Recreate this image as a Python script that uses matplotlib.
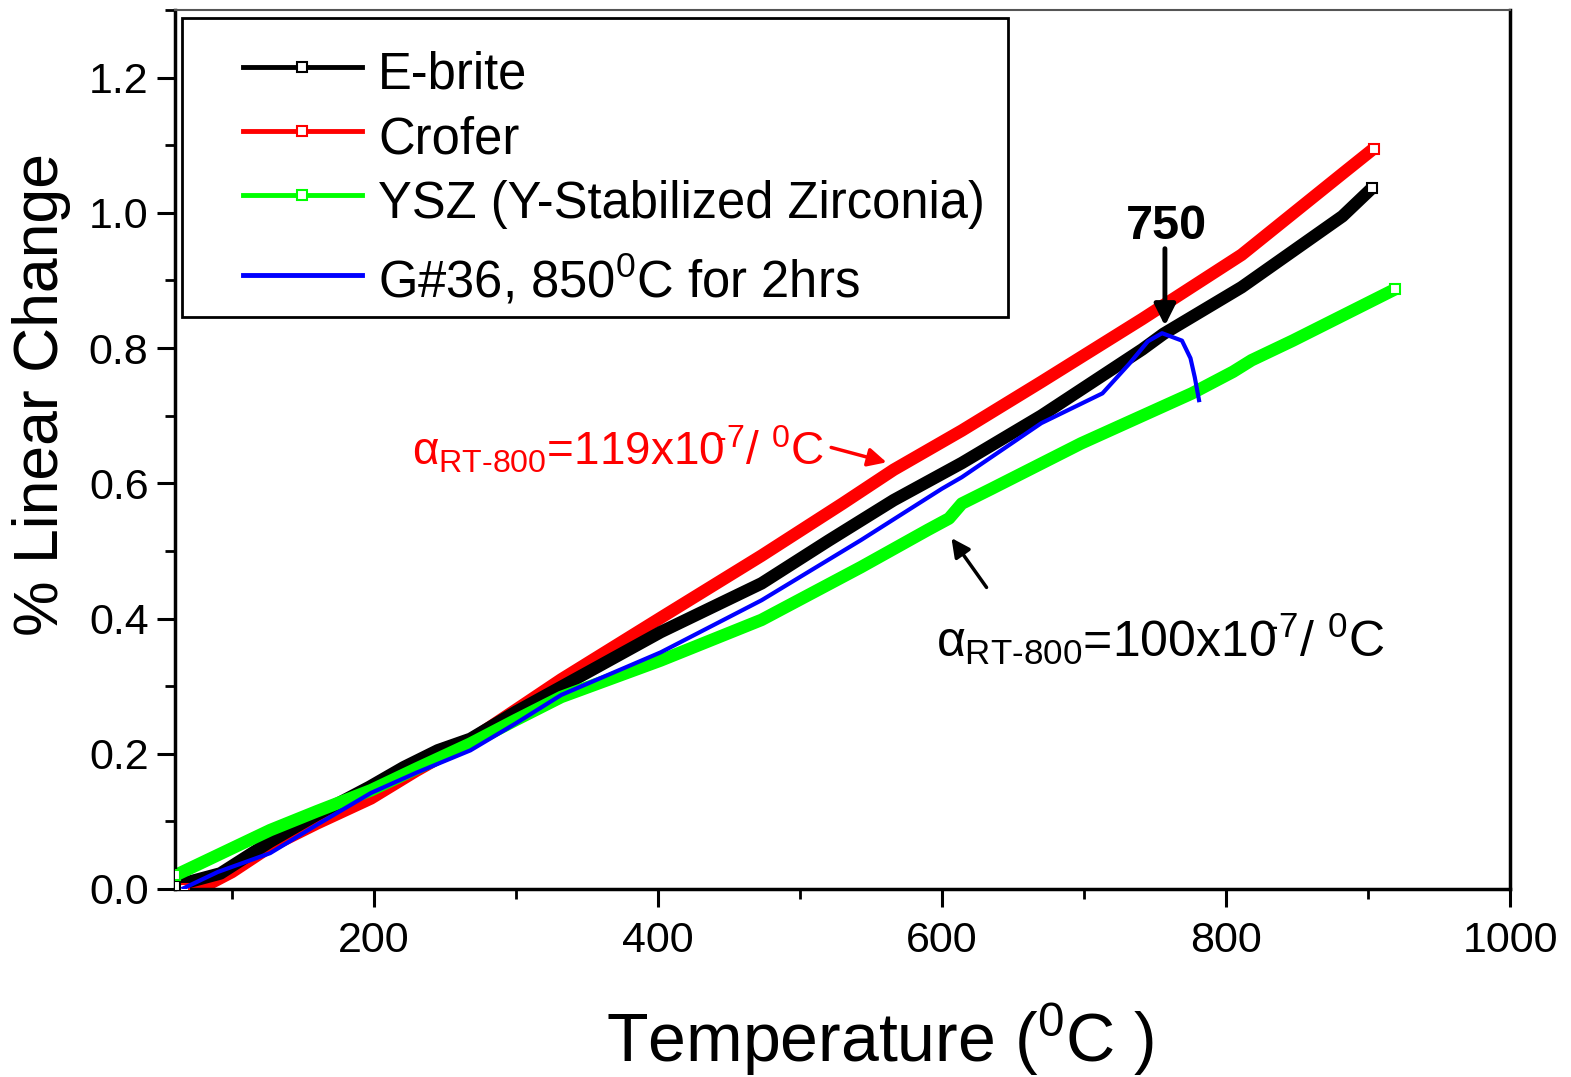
import numpy as np
import matplotlib.pyplot as plt
from matplotlib.lines import Line2D
from matplotlib.patches import Rectangle
from matplotlib.ticker import MultipleLocator, FormatStrFormatter

plt.rcParams['font.family'] = 'Liberation Sans'
plt.rcParams['mathtext.fontset'] = 'custom'
plt.rcParams['mathtext.rm'] = 'Liberation Sans'
plt.rcParams['mathtext.it'] = 'Liberation Sans'
plt.rcParams['mathtext.bf'] = 'Liberation Sans:bold'

# ----------------------------
# data
# ----------------------------
ebrite_t = [60, 92, 127, 160, 197, 221, 245, 268, 300, 332, 402, 473, 520,
            566, 614, 670, 741, 756, 811, 882, 903]
ebrite_y = [0.005, 0.023, 0.07, 0.11, 0.151, 0.18, 0.205, 0.222, 0.262,
            0.299, 0.38, 0.452, 0.515, 0.575, 0.63, 0.70, 0.798, 0.821,
            0.89, 0.995, 1.037]

crofer_t = [66, 80, 100, 127, 160, 198, 230, 268, 300, 332, 405, 473, 530,
            566, 614, 670, 741, 811, 882, 904]
crofer_y = [0.0, 0.003, 0.025, 0.0625, 0.097, 0.134, 0.175, 0.22, 0.265,
            0.31, 0.405, 0.493, 0.57, 0.62, 0.678, 0.75, 0.843, 0.938,
            1.058, 1.095]

ysz_t = [60, 90, 127, 160, 198, 230, 268, 300, 332, 402, 473, 543, 590, 605,
         614, 635, 698, 776, 805, 818, 847, 919]
ysz_y = [0.02, 0.05, 0.087, 0.115, 0.146, 0.178, 0.215, 0.25, 0.284, 0.338,
         0.398, 0.476, 0.531, 0.548, 0.57, 0.592, 0.659, 0.733, 0.765, 0.782,
         0.811, 0.887]

g36_t = [66, 90, 127, 160, 198, 230, 268, 300, 332, 402, 473, 543, 600, 614,
         670, 713, 732, 745, 755, 769, 775, 778, 781]
g36_y = [0.001, 0.025, 0.053, 0.095, 0.142, 0.172, 0.205, 0.245, 0.287,
         0.35, 0.427, 0.516, 0.592, 0.609, 0.689, 0.733, 0.777, 0.81, 0.822,
         0.811, 0.785, 0.757, 0.723]

labels = ['E-brite', 'Crofer', 'YSZ (Y-Stabilized Zirconia)',
          'G#36, 850$^0$C for 2hrs']
colors = ['black', '#ff0000', '#00ff00', '#0000ff']

# ----------------------------
# figure
# ----------------------------
fig = plt.figure(figsize=(15.71, 10.77), dpi=100)
ax = fig.add_axes([0.1114, 0.1746, 0.8498, 0.8161])

# dense open-square series drawn as thick bands, end points as open squares
for t, y, c in [(crofer_t, crofer_y, colors[1]),
                (ebrite_t, ebrite_y, colors[0]),
                (ysz_t, ysz_y, colors[2])]:
    ax.plot(t, y, color=c, lw=9, solid_capstyle='butt',
            solid_joinstyle='round', zorder=2)
    ax.plot(t[-1], y[-1], 's', ms=7, mfc='white', mec=c, mew=1.5, zorder=3)
    ax.plot(t[0], y[0], 's', ms=7, mfc='white', mec=c, mew=1.5, zorder=3)

ax.plot(g36_t, g36_y, color=colors[3], lw=3, solid_joinstyle='round',
        zorder=4)

ax.set_xlim(60, 1000)
ax.set_ylim(0, 1.3)
ax.xaxis.set_major_locator(MultipleLocator(200))
ax.xaxis.set_minor_locator(MultipleLocator(100))
ax.yaxis.set_major_locator(MultipleLocator(0.2))
ax.yaxis.set_minor_locator(MultipleLocator(0.1))
ax.yaxis.set_major_formatter(FormatStrFormatter('%.1f'))
ax.tick_params(which='major', direction='out', length=13, width=2.2,
               labelsize=31)
ax.tick_params(axis='x', which='major', pad=10)
ax.tick_params(axis='y', which='major', pad=6)
ax.tick_params(which='minor', direction='out', length=7, width=2)
for s in ['left', 'bottom', 'right']:
    ax.spines[s].set_linewidth(2.5)
ax.spines['top'].set_linewidth(1.5)
ax.spines['top'].set_color('#555555')

fig.text(880 / 1571, 1 - 1062 / 1077, 'Temperature ($^0$C )', fontsize=49,
         ha='center', va='baseline')
fig.text(42 / 1571, 1 - 395 / 1077, '% Linear Change', fontsize=45,
         rotation=90, ha='center', va='center')

# legend (drawn by hand to get the uneven padding of the original)
ax.add_patch(Rectangle((0.0052, 0.6507), 0.6187, 0.340, transform=ax.transAxes,
                       fill=True, fc='white', ec='black', lw=2, zorder=5))
row_line = [67, 131, 195, 275]
row_base = [88, 153, 218, 298]
for i, (lab, c) in enumerate(zip(labels, colors)):
    yl = (889 - row_line[i]) / 879
    ax.add_line(Line2D([0.0509, 0.140], [yl, yl], transform=ax.transAxes,
                       color=c, lw=3.5, zorder=6))
    if i < 3:
        ax.add_line(Line2D([0.0951], [yl], transform=ax.transAxes, marker='s',
                           ms=7, mfc='white', mec=c, mew=1.5, zorder=7))
    ax.text(0.152, (889 - row_base[i]) / 879, lab, transform=ax.transAxes,
            fontsize=36.5, ha='left', va='baseline', zorder=7)

# annotations
ax.text(227, 0.6266,
        r'$\alpha_{\text{RT-800}}$=119x10$^{\!\!\text{-7}}$/ $^0$C',
        color='#ff0000', fontsize=33, ha='left', va='baseline')
ax.annotate('', xy=(561, 0.631), xytext=(522, 0.653),
            arrowprops=dict(arrowstyle='-|>', color='#ff0000', lw=2.5,
                            mutation_scale=28, shrinkA=0, shrinkB=0))

ax.text(596, 0.343,
        r'$\alpha_{\text{RT-800}}$=100x10$^{\!\!\text{-7}}$/ $^0$C',
        color='black', fontsize=36, ha='left', va='baseline')
ax.annotate('', xy=(606.7, 0.519), xytext=(631.4, 0.446),
            arrowprops=dict(arrowstyle='-|>', color='black', lw=2.5,
                            mutation_scale=28, shrinkA=0, shrinkB=0))

ax.text(758, 0.962, '750', fontsize=35, fontweight='bold', ha='center',
        va='baseline')
ax.annotate('', xy=(757, 0.833), xytext=(757, 0.947),
            arrowprops=dict(arrowstyle='-|>', color='black', lw=3.5,
                            mutation_scale=32, shrinkA=0, shrinkB=0))

fig.savefig('out.png', dpi=100)
